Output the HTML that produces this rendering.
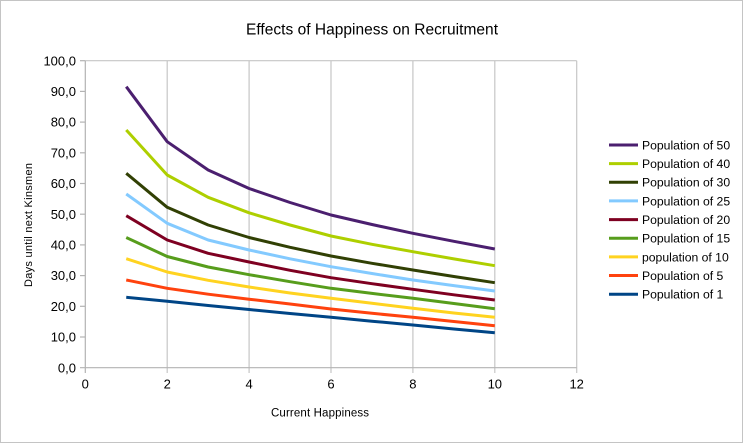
<!DOCTYPE html>
<html><head><meta charset="utf-8"><style>
html,body{margin:0;padding:0;background:#fff;}
svg{display:block;}
text{font-family:"Liberation Sans",sans-serif;fill:#000;}
</style></head><body>
<svg width="743" height="443" viewBox="0 0 743 443" xmlns="http://www.w3.org/2000/svg">
<rect x="0.5" y="0.5" width="742" height="442" fill="#fff" stroke="#c4c4c4" stroke-width="1"/>
<text x="372" y="34.5" font-size="15.5" text-anchor="middle" textLength="252" lengthAdjust="spacing">Effects of Happiness on Recruitment</text>
<g stroke="#c6c6c6" stroke-width="1.2" fill="none">
<line x1="85.3" y1="60.7" x2="576.7" y2="60.7"/>
<line x1="167.2" y1="60.7" x2="167.2" y2="373"/>
<line x1="249.1" y1="60.7" x2="249.1" y2="373"/>
<line x1="331" y1="60.7" x2="331" y2="373"/>
<line x1="412.9" y1="60.7" x2="412.9" y2="373"/>
<line x1="494.8" y1="60.7" x2="494.8" y2="373"/>
<line x1="576.7" y1="60.7" x2="576.7" y2="373"/>
</g>
<g stroke="#b3b3b3" stroke-width="1.2" fill="none">
<line x1="85.3" y1="60.7" x2="85.3" y2="373"/>
<line x1="80" y1="367.7" x2="576.7" y2="367.7"/>
<line x1="80" y1="337" x2="85.3" y2="337"/>
<line x1="80" y1="306.3" x2="85.3" y2="306.3"/>
<line x1="80" y1="275.6" x2="85.3" y2="275.6"/>
<line x1="80" y1="244.9" x2="85.3" y2="244.9"/>
<line x1="80" y1="214.2" x2="85.3" y2="214.2"/>
<line x1="80" y1="183.5" x2="85.3" y2="183.5"/>
<line x1="80" y1="152.8" x2="85.3" y2="152.8"/>
<line x1="80" y1="122.1" x2="85.3" y2="122.1"/>
<line x1="80" y1="91.4" x2="85.3" y2="91.4"/>
<line x1="80" y1="60.7" x2="85.3" y2="60.7"/>
</g>
<g font-size="13" text-anchor="end">
<text x="76" y="372.3">0,0</text>
<text x="76" y="341.6">10,0</text>
<text x="76" y="310.9">20,0</text>
<text x="76" y="280.2">30,0</text>
<text x="76" y="249.5">40,0</text>
<text x="76" y="218.8">50,0</text>
<text x="76" y="188.1">60,0</text>
<text x="76" y="157.4">70,0</text>
<text x="76" y="126.7">80,0</text>
<text x="76" y="96">90,0</text>
<text x="76" y="65.3">100,0</text>
</g>
<g font-size="13" text-anchor="middle">
<text x="85.3" y="388.5">0</text>
<text x="167.2" y="388.5">2</text>
<text x="249.1" y="388.5">4</text>
<text x="331" y="388.5">6</text>
<text x="412.9" y="388.5">8</text>
<text x="494.8" y="388.5">10</text>
<text x="576.7" y="388.5">12</text>
</g>
<text x="320" y="416.5" font-size="11.5" text-anchor="middle" textLength="98" lengthAdjust="spacing">Current Happiness</text>
<text transform="translate(32,225) rotate(-90)" x="0" y="0" font-size="11" text-anchor="middle" textLength="124" lengthAdjust="spacing">Days until next Kinsmen</text>
<g fill="none" stroke-width="3" stroke-linejoin="round" stroke-linecap="butt">
<polyline stroke="#004586" points="126.25,297.3 167.2,301.2 208.15,305.5 249.1,309.5 290.05,313.5 331,317.3 371.95,321.2 412.9,325 453.85,329 494.8,332.7"/>
<polyline stroke="#ff420e" points="126.25,280 167.2,288.3 208.15,294.2 249.1,299.2 290.05,304 331,309 371.95,313.3 412.9,317.3 453.85,321.5 494.8,325.7"/>
<polyline stroke="#ffd320" points="126.25,258.7 167.2,272 208.15,280.3 249.1,287 290.05,293 331,298.3 371.95,303.3 412.9,308.3 453.85,313 494.8,317.3"/>
<polyline stroke="#579d1c" points="126.25,237.5 167.2,256.5 208.15,267 249.1,274.7 290.05,281.7 331,288.3 371.95,293.4 412.9,298.3 453.85,303.5 494.8,308.7"/>
<polyline stroke="#7e0021" points="126.25,215.7 167.2,240 208.15,253.3 249.1,262 290.05,270.3 331,277.7 371.95,283.7 412.9,289.3 453.85,294.8 494.8,300"/>
<polyline stroke="#83caff" points="126.25,194 167.2,223.3 208.15,240 249.1,250 290.05,258.8 331,266.7 371.95,273.5 412.9,280 453.85,285.6 494.8,291"/>
<polyline stroke="#314004" points="126.25,173.3 167.2,207.3 208.15,225 249.1,237.5 290.05,247.3 331,256 371.95,263.3 412.9,270 453.85,276.5 494.8,282.7"/>
<polyline stroke="#aecf00" points="126.25,130 167.2,175 208.15,197.3 249.1,212.8 290.05,225 331,236 371.95,244.3 412.9,251.7 453.85,258.9 494.8,265.7"/>
<polyline stroke="#4b1f6f" points="126.25,86.7 167.2,141.7 208.15,170 249.1,188.5 290.05,202.5 331,215 371.95,224.5 412.9,233.3 453.85,241.3 494.8,249"/>
</g>
<g stroke-width="3">
<line x1="609" y1="145" x2="638" y2="145" stroke="#4b1f6f"/>
<line x1="609" y1="163.6" x2="638" y2="163.6" stroke="#aecf00"/>
<line x1="609" y1="182.3" x2="638" y2="182.3" stroke="#314004"/>
<line x1="609" y1="200.9" x2="638" y2="200.9" stroke="#83caff"/>
<line x1="609" y1="219.6" x2="638" y2="219.6" stroke="#7e0021"/>
<line x1="609" y1="238.2" x2="638" y2="238.2" stroke="#579d1c"/>
<line x1="609" y1="256.9" x2="638" y2="256.9" stroke="#ffd320"/>
<line x1="609" y1="275.5" x2="638" y2="275.5" stroke="#ff420e"/>
<line x1="609" y1="294.2" x2="638" y2="294.2" stroke="#004586"/>
</g>
<g font-size="12.2">
<text x="642" y="149.4">Population of 50</text>
<text x="642" y="168">Population of 40</text>
<text x="642" y="186.7">Population of 30</text>
<text x="642" y="205.3">Population of 25</text>
<text x="642" y="224">Population of 20</text>
<text x="642" y="242.6">Population of 15</text>
<text x="642" y="261.3">population of 10</text>
<text x="642" y="279.9">Population of 5</text>
<text x="642" y="298.6">Population of 1</text>
</g>
</svg>
</body></html>
